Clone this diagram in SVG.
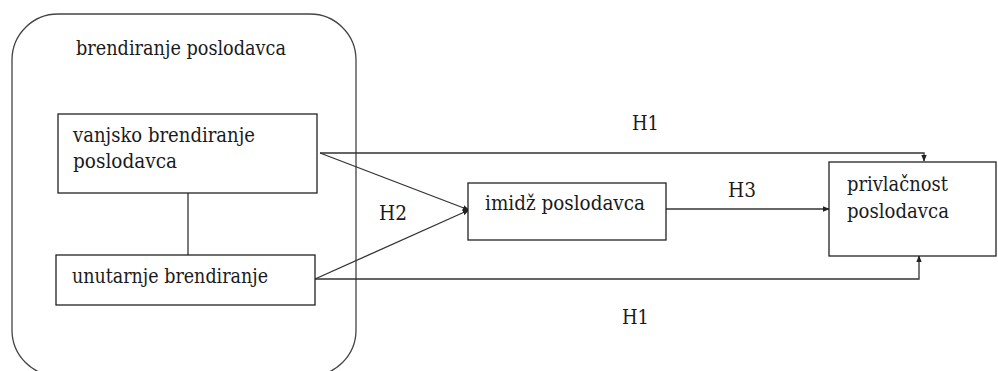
<svg xmlns="http://www.w3.org/2000/svg" width="998" height="371" viewBox="0 0 998 371">
<style>
.box{fill:#fff;stroke:#222;stroke-width:1.3}
.outer{fill:none;stroke:#444;stroke-width:1.3}
.ln{fill:none;stroke:#333;stroke-width:1.3}
.t{font-family:'DejaVu Serif','Liberation Serif',serif;font-size:20px;fill:#1a1a1a}
</style>
<defs>
<marker id="ah" viewBox="0 0 10 10" refX="9" refY="5" markerWidth="7" markerHeight="7" orient="auto" markerUnits="userSpaceOnUse">
<path d="M0,1 L10,5 L0,9 z" fill="#222"/>
</marker>
</defs>
<rect width="998" height="371" fill="#fff"/>
<g id="group-brendiranje">
<rect class="outer" x="12" y="14" width="344" height="362" rx="46" ry="46"/>
<text class="t" x="76" y="55" textLength="210" lengthAdjust="spacingAndGlyphs">brendiranje poslodavca</text>
</g>
<g id="connectors">
<path class="ln" d="M188,193 V255"/>
<path class="ln" d="M320,153 H924 V161" marker-end="url(#ah)"/>
<path class="ln" d="M320,153 L469,210" marker-end="url(#ah)"/>
<path class="ln" d="M315,279 L469,210" marker-end="url(#ah)"/>
<path class="ln" d="M315,279 H919 V256" marker-end="url(#ah)"/>
<path class="ln" d="M666,209 H829" marker-end="url(#ah)"/>
<text class="t" x="632" y="130" textLength="27" lengthAdjust="spacingAndGlyphs">H1</text>
<text class="t" x="622" y="324" textLength="27" lengthAdjust="spacingAndGlyphs">H1</text>
<text class="t" x="379" y="220" textLength="28" lengthAdjust="spacingAndGlyphs">H2</text>
<text class="t" x="728" y="197" textLength="28" lengthAdjust="spacingAndGlyphs">H3</text>
</g>
<g id="vanjsko">
<rect class="box" x="58" y="114" width="259" height="79"/>
<text class="t" x="73" y="142" textLength="182" lengthAdjust="spacingAndGlyphs">vanjsko brendiranje</text>
<text class="t" x="73" y="168" textLength="104" lengthAdjust="spacingAndGlyphs">poslodavca</text>
</g>
<g id="unutarnje">
<rect class="box" x="56" y="255" width="259" height="50"/>
<text class="t" x="72" y="283" textLength="196" lengthAdjust="spacingAndGlyphs">unutarnje brendiranje</text>
</g>
<g id="imidz">
<rect class="box" x="468" y="183" width="198" height="57"/>
<text class="t" x="485" y="210" textLength="160" lengthAdjust="spacingAndGlyphs">imidž poslodavca</text>
</g>
<g id="privlacnost">
<rect class="box" x="829" y="162" width="167" height="94"/>
<text class="t" x="847" y="191" textLength="101" lengthAdjust="spacingAndGlyphs">privlačnost</text>
<text class="t" x="847" y="218" textLength="102" lengthAdjust="spacingAndGlyphs">poslodavca</text>
</g>
</svg>
